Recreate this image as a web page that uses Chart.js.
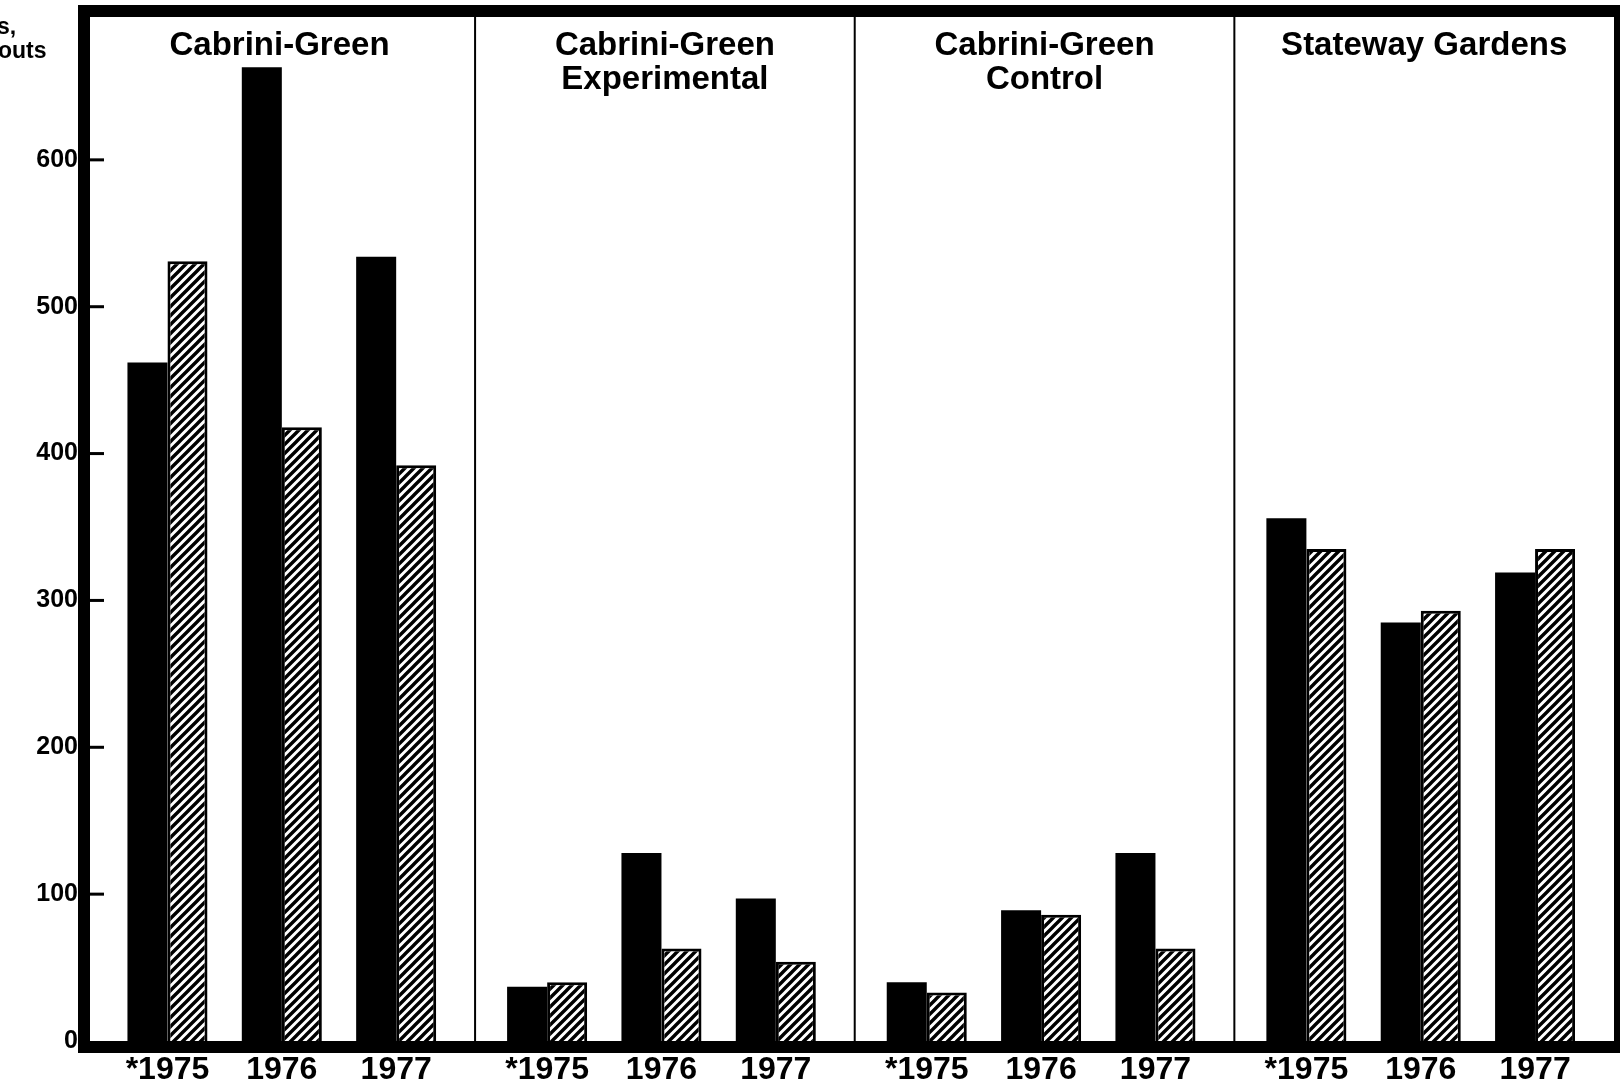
<!DOCTYPE html>
<html><head><meta charset="utf-8">
<script src="https://cdn.jsdelivr.net/npm/chart.js@4.4.1/dist/chart.umd.min.js"></script>
<style>html,body{margin:0;padding:0;background:#fff;overflow:hidden}#wrap{width:1624px;height:1087px;position:relative}</style>
</head><body><div id="wrap"><canvas id="c" width="1624" height="1087"></canvas></div>
<script>
// ---- data ----
const panelTitles = [['Cabrini-Green'], ['Cabrini-Green', 'Experimental'], ['Cabrini-Green', 'Control'], ['Stateway Gardens']];
const yearLabels = ['*1975', '1976', '1977'];
const solidValues = [462, 663, 534, 37, 128, 97, 40, 89, 128, 356, 285, 319];
const hatchedValues = [531, 418, 392, 40, 63, 54, 33, 86, 63, 335, 293, 335];
const yTickValues = [0, 100, 200, 300, 400, 500, 600];
const axisTitleFragments = ['s,', 'outs'];

// ---- layout helpers ----
const PANEL_SPAN = 3.32, PAD = 0.63;
const xPos = i => Math.floor(i / 3) * PANEL_SPAN + PAD + (i % 3);
const FONT = '"Liberation Sans", Arial, Helvetica, sans-serif';

function makeHatch() {
  const s = 9, c = document.createElement('canvas');
  c.width = s; c.height = s;
  const g = c.getContext('2d');
  g.fillStyle = '#fff'; g.fillRect(0, 0, s, s);
  g.strokeStyle = '#000'; g.lineWidth = 3.4; g.lineCap = 'square';
  g.beginPath();
  g.moveTo(-2, s + 2); g.lineTo(s + 2, -2);
  g.moveTo(-2, 2); g.lineTo(2, -2);
  g.moveTo(s - 2, s + 2); g.lineTo(s + 2, s - 2);
  g.stroke();
  return g.createPattern(c, 'repeat');
}
const ctx0 = document.getElementById('c').getContext('2d');
const hatch = makeHatch();

const framePlugin = {
  id: 'frame',
  afterDraw(chart) {
    const ctx = chart.ctx;
    const { left, right, top, bottom } = chart.chartArea;
    const xs = chart.scales.x, ys = chart.scales.y;
    ctx.save();
    ctx.fillStyle = '#000';
    ctx.fillRect(left - 6, top - 8, 12, bottom + 12 - (top - 8));
    ctx.fillRect(left - 6, top - 8, right + 6 - (left - 6), 12);
    ctx.fillRect(right, top - 8, 6, bottom + 12 - (top - 8));
    ctx.fillRect(left - 6, bottom, right + 6 - (left - 6), 12);
    for (let p = 1; p < panelTitles.length; p++) {
      const px = xs.getPixelForValue(p * PANEL_SPAN);
      ctx.fillRect(px - 1, top, 2, bottom - top);
    }
    yTickValues.filter(v => v > 0).forEach(v => {
      const py = ys.getPixelForValue(v);
      ctx.fillRect(left + 6, py - 1.5, 14, 3);
    });
    ctx.font = 'bold 33px ' + FONT;
    ctx.textAlign = 'center';
    ctx.textBaseline = 'middle';
    panelTitles.forEach((lines, p) => {
      const a = p === 0 ? left : xs.getPixelForValue(p * PANEL_SPAN);
      const b = p === panelTitles.length - 1 ? right : xs.getPixelForValue((p + 1) * PANEL_SPAN);
      lines.forEach((t, k) => ctx.fillText(t, (a + b) / 2, top + 33 + k * 34));
    });
    ctx.font = 'bold 23px ' + FONT;
    ctx.textAlign = 'left';
    ctx.textBaseline = 'alphabetic';
    ctx.fillText(axisTitleFragments[0], -3, 34);
    ctx.fillText(axisTitleFragments[1], -2, 58);
    ctx.restore();
  }
};

new Chart(ctx0, {
  type: 'bar',
  data: {
    datasets: [
      {
        label: 'solid',
        data: solidValues.map((v, i) => ({ x: xPos(i), y: v })),
        backgroundColor: '#000',
        borderWidth: 0,
        categoryPercentage: 0.7,
        barPercentage: 1
      },
      {
        label: 'hatched',
        data: hatchedValues.map((v, i) => ({ x: xPos(i), y: v })),
        backgroundColor: hatch,
        borderColor: '#000',
        borderWidth: 3,
        borderSkipped: 'bottom',
        categoryPercentage: 0.7,
        barPercentage: 1
      }
    ]
  },
  options: {
    responsive: false,
    animation: false,
    devicePixelRatio: 1,
    layout: { padding: { top: 13, right: 10, left: 0, bottom: 0 } },
    plugins: { legend: { display: false }, tooltip: { enabled: false }, title: { display: false } },
    scales: {
      x: {
        type: 'linear',
        bounds: 'data',
        offset: false,
        min: -0.1,
        max: 4 * PANEL_SPAN,
        grid: { display: false, drawTicks: false },
        border: { display: false },
        afterBuildTicks: s => { s.ticks = solidValues.map((_, i) => ({ value: xPos(i) })); },
        afterFit: s => { s.height = 46; s.paddingLeft = 0; s.paddingRight = 0; },
        ticks: {
          autoSkip: false, maxRotation: 0, minRotation: 0, padding: 10,
          color: '#000',
          font: { family: FONT, weight: 'bold', size: 32 },
          callback: (v, i) => yearLabels[i % yearLabels.length]
        }
      },
      y: {
        min: 0,
        max: 700,
        grid: { display: false, drawTicks: false },
        border: { display: false },
        afterBuildTicks: s => { s.ticks = yTickValues.map(v => ({ value: v })); },
        afterFit: s => { s.width = 84; s.paddingTop = 0; s.paddingBottom = 0; },
        ticks: {
          padding: 6,
          color: '#000',
          font: { family: FONT, weight: 'bold', size: 25 }
        }
      }
    }
  },
  plugins: [framePlugin]
});
</script></body></html>
